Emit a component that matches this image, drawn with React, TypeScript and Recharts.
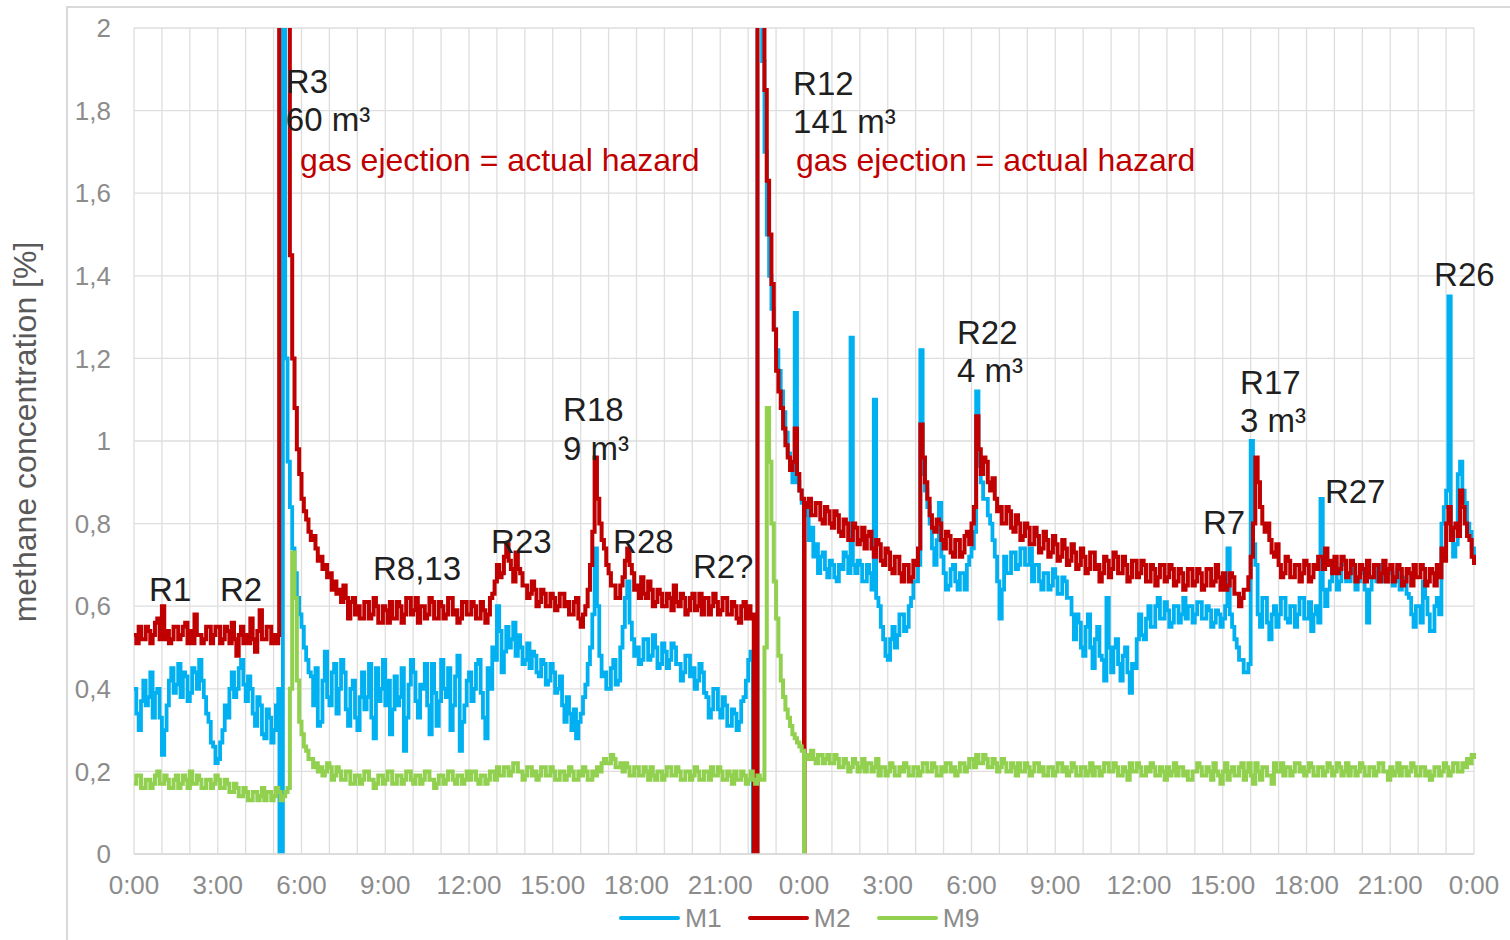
import React from 'react';
import { LineChart, Line, XAxis, YAxis, CartesianGrid, ReferenceDot } from 'recharts';

const FONT = '"Liberation Sans", Arial, Helvetica, sans-serif';

// sampling step of the series: 5 minutes, expressed in hours (12 values per hour row)
const STEP_HOURS = 1 / 12;

const hourTicks = [
  0, 1, 2, 3, 4, 5, 6, 7, 8, 9, 10, 11, 12, 13, 14, 15, 16, 17, 18, 19, 20, 21, 22, 23, 24,
  25, 26, 27, 28, 29, 30, 31, 32, 33, 34, 35, 36, 37, 38, 39, 40, 41, 42, 43, 44, 45, 46, 47, 48,
];
const yTicks = [0, 0.2, 0.4, 0.6, 0.8, 1, 1.2, 1.4, 1.6, 1.8, 2];

// M1 (blue), one row per hour, 0:00 day 1 .. 0:00 day 3
const m1Values = [
  0.40, 0.34, 0.30, 0.37, 0.42, 0.36, 0.38, 0.44, 0.33, 0.39, 0.40, 0.33,
  0.24, 0.30, 0.36, 0.42, 0.45, 0.39, 0.41, 0.46, 0.38, 0.44, 0.43, 0.37,
  0.39, 0.45, 0.44, 0.40, 0.47, 0.42, 0.38, 0.34, 0.32, 0.27, 0.26, 0.22,
  0.23, 0.27, 0.30, 0.36, 0.33, 0.40, 0.44, 0.38, 0.40, 0.45, 0.47, 0.41,
  0.37, 0.43, 0.40, 0.34, 0.31, 0.38, 0.36, 0.29, 0.28, 0.35, 0.33, 0.27,
  0.30, 0.36, 0.40, 0, 2.6, 1.2, 0.95, 0.84, 0.74, 0.68, 0.62, 0.58,
  0.55, 0.50, 0.47, 0.44, 0.43, 0.36, 0.45, 0.31, 0.32, 0.42, 0.49, 0.38,
  0.36, 0.44, 0.46, 0.34, 0.40, 0.47, 0.44, 0.35, 0.31, 0.40, 0.42, 0.33,
  0.30, 0.38, 0.44, 0.35, 0.38, 0.46, 0.33, 0.28, 0.45, 0.37, 0.40, 0.47,
  0.36, 0.42, 0.29, 0.35, 0.43, 0.36, 0.38, 0.45, 0.25, 0.33, 0.41, 0.47,
  0.44, 0.37, 0.33, 0.41, 0.40, 0.46, 0.36, 0.29, 0.46, 0.39, 0.31, 0.37,
  0.47, 0.40, 0.38, 0.45, 0.30, 0.36, 0.43, 0.48, 0.25, 0.32, 0.36, 0.42,
  0.44, 0.37, 0.40, 0.46, 0.47, 0.39, 0.33, 0.28, 0.45, 0.40, 0.50, 0.47,
  0.60, 0.54, 0.44, 0.49, 0.55, 0.50, 0.52, 0.56, 0.48, 0.53, 0.50, 0.46,
  0.47, 0.51, 0.45, 0.49, 0.48, 0.44, 0.43, 0.47, 0.46, 0.41, 0.42, 0.46,
  0.44, 0.39, 0.40, 0.43, 0.36, 0.32, 0.38, 0.34, 0.30, 0.35, 0.28, 0.32,
  0.34, 0.38, 0.41, 0.46, 0.50, 0.58, 0.74, 0.60, 0.48, 0.43, 0.44, 0.40,
  0.40, 0.45, 0.47, 0.41, 0.42, 0.50, 0.55, 0.62, 0.66, 0.56, 0.52, 0.48,
  0.50, 0.46, 0.47, 0.52, 0.52, 0.47, 0.48, 0.53, 0.50, 0.45, 0.46, 0.51,
  0.49, 0.45, 0.47, 0.51, 0.50, 0.46, 0.46, 0.42, 0.44, 0.48, 0.48, 0.43,
  0.45, 0.40, 0.42, 0.46, 0.44, 0.39, 0.38, 0.33, 0.35, 0.40, 0.40, 0.35,
  0.33, 0.38, 0.36, 0.31, 0.31, 0.35, 0.34, 0.30, 0.32, 0.37, 0.38, 0.42,
  0.47, 0.49, 0, 0, 2.8, 2.4, 1.92, 1.7, 1.5, 1.4, 1.32, 1.27,
  1.22, 1.17, 1.12, 1.07, 1.02, 0.97, 0.93, 0.90, 1.31, 0.90, 0.88, 0.85,
  0.82, 0.84, 0.76, 0.79, 0.72, 0.75, 0.68, 0.72, 0.73, 0.69, 0.67, 0.71,
  0.70, 0.67, 0.66, 0.70, 0.69, 0.73, 0.72, 0.68, 1.25, 0.70, 0.68, 0.71,
  0.70, 0.66, 0.66, 0.70, 0.68, 0.64, 1.10, 0.62, 0.60, 0.55, 0.52, 0.48,
  0.47, 0.52, 0.55, 0.50, 0.53, 0.58, 0.58, 0.54, 0.55, 0.60, 0.62, 0.66,
  0.66, 0.70, 1.22, 0.92, 0.88, 0.84, 0.80, 0.74, 0.70, 0.76, 0.85, 0.72,
  0.68, 0.64, 0.65, 0.69, 0.70, 0.66, 0.64, 0.68, 0.68, 0.64, 0.70, 0.72,
  0.74, 0.78, 1.12, 0.94, 0.90, 0.86, 0.86, 0.82, 0.80, 0.76, 0.72, 0.66,
  0.57, 0.64, 0.72, 0.68, 0.68, 0.73, 0.73, 0.69, 0.70, 0.74, 0.74, 0.70,
  0.70, 0.74, 0.66, 0.70, 0.70, 0.66, 0.64, 0.68, 0.68, 0.64, 0.65, 0.69,
  0.67, 0.63, 0.63, 0.67, 0.66, 0.62, 0.62, 0.58, 0.52, 0.58, 0.56, 0.50,
  0.48, 0.55, 0.58, 0.50, 0.45, 0.52, 0.55, 0.48, 0.47, 0.42, 0.62, 0.50,
  0.44, 0.50, 0.52, 0.46, 0.42, 0.48, 0.50, 0.44, 0.39, 0.46, 0.45, 0.52,
  0.58, 0.53, 0.52, 0.57, 0.60, 0.55, 0.55, 0.60, 0.62, 0.57, 0.57, 0.61,
  0.59, 0.55, 0.56, 0.60, 0.60, 0.56, 0.58, 0.62, 0.57, 0.60, 0.60, 0.56,
  0.58, 0.61, 0.61, 0.57, 0.57, 0.60, 0.59, 0.55, 0.56, 0.59, 0.58, 0.55,
  0.57, 0.60, 0.74, 0.58, 0.55, 0.52, 0.50, 0.47, 0.47, 0.44, 0.44, 0.46,
  1.0, 0.75, 0.70, 0.58, 0.55, 0.62, 0.62, 0.56, 0.52, 0.58, 0.60, 0.55,
  0.58, 0.62, 0.62, 0.57, 0.56, 0.60, 0.60, 0.55, 0.58, 0.62, 0.62, 0.57,
  0.57, 0.61, 0.54, 0.58, 0.60, 0.56, 0.86, 0.64, 0.60, 0.64, 0.66, 0.70,
  0.68, 0.64, 0.66, 0.70, 0.70, 0.66, 0.66, 0.69, 0.68, 0.64, 0.66, 0.69,
  0.68, 0.64, 0.56, 0.64, 0.67, 0.70, 0.66, 0.69, 0.70, 0.66, 0.66, 0.69,
  0.68, 0.65, 0.66, 0.69, 0.64, 0.67, 0.67, 0.63, 0.62, 0.58, 0.55, 0.60,
  0.60, 0.56, 0.66, 0.62, 0.58, 0.54, 0.54, 0.60, 0.62, 0.58, 0.80, 0.84,
  0.88, 1.35, 0.78, 0.72, 0.75, 0.92, 0.95, 0.88, 0.85, 0.80, 0.78, 0.74,
  0.72,
];

// M2 (red)
const m2Values = [
  0.53, 0.51, 0.55, 0.52, 0.52, 0.55, 0.54, 0.51, 0.53, 0.56, 0.57, 0.52,
  0.60, 0.52, 0.54, 0.51, 0.52, 0.55, 0.55, 0.52, 0.53, 0.55, 0.56, 0.51,
  0.54, 0.51, 0.58, 0.53, 0.53, 0.51, 0.52, 0.55, 0.55, 0.51, 0.53, 0.55,
  0.55, 0.51, 0.52, 0.55, 0.54, 0.51, 0.56, 0.52, 0.48, 0.53, 0.55, 0.51,
  0.53, 0.51, 0.57, 0.52, 0.49, 0.54, 0.59, 0.52, 0.52, 0.55, 0.55, 0.51,
  0.53, 0.51, 0.53, 2.8, 2.8, 2.6, 2.05, 1.45, 1.2, 1.08, 0.98, 0.92,
  0.86, 0.83, 0.81, 0.78, 0.76, 0.77, 0.74, 0.71, 0.72, 0.69, 0.70, 0.67,
  0.68, 0.64, 0.66, 0.63, 0.64, 0.61, 0.65, 0.62, 0.57, 0.61, 0.62, 0.58,
  0.60, 0.57, 0.57, 0.61, 0.61, 0.57, 0.58, 0.62, 0.60, 0.56, 0.56, 0.60,
  0.59, 0.56, 0.61, 0.57, 0.57, 0.61, 0.60, 0.56, 0.58, 0.62, 0.62, 0.58,
  0.59, 0.62, 0.56, 0.60, 0.60, 0.57, 0.58, 0.62, 0.61, 0.57, 0.57, 0.61,
  0.60, 0.57, 0.58, 0.62, 0.62, 0.58, 0.59, 0.56, 0.57, 0.61, 0.61, 0.58,
  0.58, 0.61, 0.60, 0.57, 0.57, 0.61, 0.59, 0.56, 0.58, 0.62, 0.63, 0.66,
  0.70, 0.67, 0.68, 0.72, 0.75, 0.71, 0.69, 0.66, 0.73, 0.69, 0.68, 0.65,
  0.65, 0.62, 0.63, 0.66, 0.64, 0.60, 0.61, 0.64, 0.63, 0.60, 0.60, 0.63,
  0.62, 0.59, 0.60, 0.63, 0.63, 0.60, 0.61, 0.58, 0.58, 0.61, 0.62, 0.57,
  0.55, 0.58, 0.60, 0.64, 0.70, 0.78, 0.96, 0.86, 0.80, 0.76, 0.74, 0.70,
  0.68, 0.65, 0.65, 0.62, 0.62, 0.65, 0.67, 0.71, 0.74, 0.70, 0.68, 0.64,
  0.65, 0.62, 0.67, 0.63, 0.62, 0.66, 0.64, 0.60, 0.61, 0.64, 0.63, 0.60,
  0.60, 0.63, 0.62, 0.59, 0.65, 0.61, 0.60, 0.63, 0.62, 0.58, 0.59, 0.62,
  0.63, 0.59, 0.60, 0.63, 0.58, 0.62, 0.62, 0.58, 0.60, 0.63, 0.61, 0.58,
  0.59, 0.62, 0.62, 0.58, 0.58, 0.61, 0.60, 0.57, 0.56, 0.60, 0.61, 0.57,
  0.60, 0.57, 0.58, 0, 2.8, 2.8, 2.1, 1.85, 1.63, 1.5, 1.38, 1.27,
  1.17, 1.12, 1.08, 1.03, 0.99, 0.96, 0.93, 0.95, 1.03, 0.92, 0.88, 0.86,
  0, 0.84, 0.86, 0.82, 0.82, 0.85, 0.85, 0.81, 0.80, 0.84, 0.83, 0.80,
  0.79, 0.83, 0.82, 0.78, 0.77, 0.81, 0.80, 0.76, 0.76, 0.80, 0.79, 0.75,
  0.76, 0.79, 0.74, 0.77, 0.78, 0.74, 0.72, 0.76, 0.75, 0.71, 0.70, 0.74,
  0.73, 0.69, 0.68, 0.72, 0.72, 0.68, 0.66, 0.70, 0.70, 0.66, 0.67, 0.71,
  0.70, 0.74, 1.04, 0.96, 0.90, 0.86, 0.82, 0.79, 0.78, 0.81, 0.80, 0.76,
  0.74, 0.78, 0.77, 0.73, 0.72, 0.76, 0.76, 0.72, 0.73, 0.77, 0.78, 0.75,
  0.80, 0.84, 1.06, 0.98, 0.92, 0.96, 0.95, 0.90, 0.88, 0.91, 0.86, 0.83,
  0.84, 0.80, 0.80, 0.84, 0.83, 0.79, 0.78, 0.82, 0.80, 0.76, 0.77, 0.80,
  0.79, 0.75, 0.75, 0.79, 0.77, 0.73, 0.74, 0.78, 0.76, 0.72, 0.73, 0.77,
  0.75, 0.71, 0.72, 0.76, 0.74, 0.70, 0.71, 0.75, 0.73, 0.69, 0.70, 0.74,
  0.72, 0.68, 0.69, 0.73, 0.73, 0.69, 0.70, 0.66, 0.68, 0.72, 0.71, 0.67,
  0.69, 0.73, 0.72, 0.68, 0.68, 0.72, 0.70, 0.66, 0.67, 0.71, 0.71, 0.67,
  0.68, 0.71, 0.70, 0.66, 0.66, 0.70, 0.69, 0.65, 0.67, 0.70, 0.70, 0.66,
  0.67, 0.70, 0.69, 0.65, 0.66, 0.69, 0.68, 0.64, 0.65, 0.69, 0.69, 0.65,
  0.66, 0.69, 0.68, 0.64, 0.65, 0.69, 0.69, 0.65, 0.66, 0.70, 0.67, 0.64,
  0.68, 0.64, 0.65, 0.68, 0.67, 0.63, 0.63, 0.60, 0.62, 0.64, 0.64, 0.67,
  0.72, 0.80, 0.96, 0.90, 0.84, 0.80, 0.78, 0.80, 0.76, 0.73, 0.72, 0.75,
  0.70, 0.67, 0.68, 0.72, 0.71, 0.67, 0.67, 0.70, 0.70, 0.66, 0.68, 0.71,
  0.70, 0.66, 0.67, 0.70, 0.69, 0.72, 0.72, 0.69, 0.74, 0.70, 0.71, 0.68,
  0.72, 0.68, 0.69, 0.72, 0.71, 0.67, 0.68, 0.71, 0.70, 0.66, 0.67, 0.70,
  0.69, 0.66, 0.71, 0.67, 0.67, 0.70, 0.70, 0.66, 0.68, 0.71, 0.66, 0.69,
  0.70, 0.66, 0.67, 0.70, 0.69, 0.65, 0.66, 0.69, 0.68, 0.65, 0.70, 0.67,
  0.67, 0.70, 0.69, 0.65, 0.66, 0.69, 0.68, 0.65, 0.70, 0.67, 0.74, 0.71,
  0.80, 0.84, 0.76, 0.79, 0.80, 0.77, 0.88, 0.84, 0.80, 0.77, 0.76, 0.72,
  0.70,
];

// M9 (green)
const m9Values = [
  0.17, 0.19, 0.19, 0.16, 0.16, 0.18, 0.18, 0.16, 0.17, 0.19, 0.20, 0.17,
  0.17, 0.19, 0.18, 0.16, 0.16, 0.18, 0.19, 0.16, 0.17, 0.19, 0.18, 0.16,
  0.20, 0.17, 0.17, 0.19, 0.18, 0.16, 0.16, 0.18, 0.18, 0.16, 0.17, 0.19,
  0.18, 0.16, 0.16, 0.18, 0.17, 0.15, 0.15, 0.17, 0.16, 0.14, 0.14, 0.16,
  0.15, 0.13, 0.13, 0.15, 0.15, 0.13, 0.14, 0.16, 0.13, 0.15, 0.15, 0.13,
  0.14, 0.16, 0.15, 0.13, 0.14, 0.15, 0.16, 0.40, 0.73, 0.62, 0.42, 0.32,
  0.29, 0.26, 0.25, 0.23, 0.23, 0.21, 0.22, 0.20, 0.21, 0.19, 0.20, 0.22,
  0.21, 0.18, 0.19, 0.21, 0.20, 0.18, 0.18, 0.20, 0.20, 0.17, 0.17, 0.19,
  0.19, 0.17, 0.18, 0.20, 0.20, 0.18, 0.18, 0.16, 0.17, 0.19, 0.19, 0.17,
  0.18, 0.20, 0.20, 0.17, 0.17, 0.19, 0.19, 0.17, 0.18, 0.20, 0.20, 0.18,
  0.17, 0.19, 0.19, 0.17, 0.18, 0.20, 0.20, 0.18, 0.18, 0.16, 0.17, 0.19,
  0.19, 0.17, 0.18, 0.20, 0.20, 0.18, 0.17, 0.19, 0.19, 0.17, 0.18, 0.20,
  0.18, 0.20, 0.20, 0.18, 0.17, 0.19, 0.19, 0.17, 0.18, 0.20, 0.20, 0.18,
  0.21, 0.19, 0.19, 0.21, 0.21, 0.19, 0.20, 0.22, 0.22, 0.20, 0.20, 0.18,
  0.19, 0.21, 0.21, 0.19, 0.20, 0.18, 0.19, 0.21, 0.21, 0.19, 0.19, 0.21,
  0.20, 0.18, 0.18, 0.20, 0.20, 0.18, 0.19, 0.21, 0.20, 0.18, 0.18, 0.20,
  0.19, 0.21, 0.20, 0.18, 0.18, 0.20, 0.19, 0.21, 0.20, 0.22, 0.23, 0.22,
  0.22, 0.24, 0.23, 0.21, 0.21, 0.22, 0.20, 0.22, 0.21, 0.19, 0.19, 0.21,
  0.21, 0.19, 0.19, 0.21, 0.20, 0.18, 0.21, 0.19, 0.18, 0.20, 0.20, 0.18,
  0.19, 0.21, 0.21, 0.19, 0.19, 0.21, 0.20, 0.18, 0.18, 0.20, 0.20, 0.18,
  0.19, 0.21, 0.20, 0.18, 0.18, 0.20, 0.20, 0.18, 0.21, 0.19, 0.19, 0.21,
  0.20, 0.18, 0.18, 0.20, 0.19, 0.17, 0.20, 0.18, 0.18, 0.20, 0.19, 0.17,
  0.18, 0.20, 0.18, 0.17, 0.19, 0.18, 0.18, 0.50, 1.08, 0.95, 0.80, 0.66,
  0.57, 0.48, 0.42, 0.38, 0.35, 0.33, 0.31, 0.29, 0.28, 0.27, 0.26, 0.25,
  0, 0.24, 0.23, 0.25, 0.23, 0.22, 0.24, 0.24, 0.22, 0.23, 0.24, 0.22,
  0.22, 0.24, 0.23, 0.21, 0.21, 0.23, 0.22, 0.20, 0.21, 0.23, 0.22, 0.20,
  0.21, 0.23, 0.20, 0.22, 0.22, 0.20, 0.21, 0.23, 0.19, 0.21, 0.21, 0.19,
  0.20, 0.22, 0.21, 0.19, 0.19, 0.21, 0.20, 0.22, 0.21, 0.19, 0.19, 0.21,
  0.21, 0.19, 0.20, 0.22, 0.22, 0.20, 0.20, 0.22, 0.21, 0.19, 0.19, 0.21,
  0.20, 0.22, 0.22, 0.20, 0.21, 0.19, 0.20, 0.22, 0.22, 0.20, 0.21, 0.23,
  0.23, 0.21, 0.24, 0.22, 0.22, 0.24, 0.23, 0.21, 0.21, 0.23, 0.22, 0.20,
  0.21, 0.23, 0.22, 0.20, 0.20, 0.22, 0.21, 0.19, 0.22, 0.20, 0.20, 0.22,
  0.21, 0.19, 0.20, 0.22, 0.22, 0.20, 0.21, 0.19, 0.19, 0.21, 0.21, 0.19,
  0.20, 0.22, 0.22, 0.20, 0.21, 0.19, 0.20, 0.22, 0.21, 0.19, 0.19, 0.21,
  0.21, 0.19, 0.20, 0.22, 0.19, 0.21, 0.21, 0.19, 0.20, 0.22, 0.22, 0.20,
  0.20, 0.22, 0.21, 0.19, 0.19, 0.21, 0.20, 0.18, 0.22, 0.20, 0.20, 0.22,
  0.21, 0.19, 0.19, 0.21, 0.20, 0.22, 0.21, 0.19, 0.19, 0.21, 0.20, 0.18,
  0.21, 0.19, 0.20, 0.22, 0.19, 0.21, 0.21, 0.19, 0.20, 0.18, 0.18, 0.20,
  0.20, 0.22, 0.21, 0.19, 0.19, 0.21, 0.20, 0.18, 0.22, 0.20, 0.19, 0.17,
  0.20, 0.22, 0.18, 0.20, 0.21, 0.19, 0.19, 0.21, 0.22, 0.18, 0.20, 0.22,
  0.19, 0.17, 0.22, 0.20, 0.18, 0.21, 0.21, 0.19, 0.19, 0.17, 0.22, 0.20,
  0.20, 0.22, 0.19, 0.21, 0.21, 0.19, 0.20, 0.22, 0.22, 0.20, 0.21, 0.19,
  0.20, 0.22, 0.21, 0.19, 0.19, 0.21, 0.21, 0.19, 0.20, 0.22, 0.21, 0.19,
  0.20, 0.22, 0.21, 0.19, 0.20, 0.22, 0.19, 0.21, 0.21, 0.19, 0.20, 0.22,
  0.21, 0.19, 0.19, 0.21, 0.21, 0.19, 0.20, 0.22, 0.22, 0.20, 0.20, 0.18,
  0.21, 0.19, 0.20, 0.22, 0.19, 0.21, 0.21, 0.19, 0.20, 0.22, 0.21, 0.19,
  0.19, 0.21, 0.21, 0.19, 0.20, 0.18, 0.19, 0.21, 0.21, 0.19, 0.20, 0.22,
  0.21, 0.19, 0.20, 0.22, 0.22, 0.20, 0.20, 0.22, 0.21, 0.23, 0.22, 0.24,
  0.23,
];

// extra samples at the sudden events (hours)
const eventSamples: { h: number; m1?: number; m2?: number; m9?: number }[] = [
  { h: 5.2, m2: 2.8 },
  { h: 5.21, m1: 0 },
  { h: 22.2, m2: 0 },
  { h: 23.98, m2: 0.86, m9: 0.25 },
  { h: 24.02, m2: 0.85, m9: 0.24 },
];

const annotations = [
  { h: 0.54, v: 0.613, lines: ['R1'], red: false },
  { h: 3.08, v: 0.613, lines: ['R2'], red: false },
  { h: 5.44, v: 1.843, lines: ['R3', '60 m³'], red: false },
  { h: 5.95, v: 1.654, lines: ['gas ejection = actual hazard'], red: true },
  { h: 8.56, v: 0.663, lines: ['R8,13'], red: false },
  { h: 12.79, v: 0.729, lines: ['R23'], red: false },
  { h: 15.37, v: 1.048, lines: ['R18', '9 m³'], red: false },
  { h: 17.16, v: 0.729, lines: ['R28'], red: false },
  { h: 20.02, v: 0.668, lines: ['R2?'], red: false },
  { h: 23.61, v: 1.838, lines: ['R12', '141 m³'], red: false },
  { h: 23.71, v: 1.654, lines: ['gas ejection = actual hazard'], red: true },
  { h: 29.48, v: 1.235, lines: ['R22', '4 m³'], red: false },
  { h: 38.29, v: 0.775, lines: ['R7'], red: false },
  { h: 39.62, v: 1.114, lines: ['R17', '3 m³'], red: false },
  { h: 42.66, v: 0.85, lines: ['R27'], red: false },
  { h: 46.57, v: 1.375, lines: ['R26'], red: false },
];

const seriesInfo = [
  { key: 'm1', name: 'M1', color: '#00b0f0', width: 3.8 },
  { key: 'm2', name: 'M2', color: '#c00000', width: 4 },
  { key: 'm9', name: 'M9', color: '#92d050', width: 4 },
];

type Row = { h: number; m1: number | null; m2: number | null; m9: number | null };

const pick = (arr: number[], i: number) => (i < arr.length ? arr[i] : null);

const gridRows: Row[] = m1Values.map((v, i) => ({
  h: i * STEP_HOURS,
  m1: v,
  m2: pick(m2Values, i),
  m9: pick(m9Values, i),
}));
const eventRows: Row[] = eventSamples.map((e) => ({
  h: e.h,
  m1: e.m1 === undefined ? null : e.m1,
  m2: e.m2 === undefined ? null : e.m2,
  m9: e.m9 === undefined ? null : e.m9,
}));
const rows: Row[] = [...gridRows, ...eventRows].sort((a, b) => a.h - b.h);

const formatHour = (h: number) => (h % 3 === 0 ? `${h % 24}:00` : '');
const formatY = (v: number) => String(v).replace('.', ',');

const tickStyle = { fill: '#8c8c8c', fontSize: 26, fontFamily: FONT };

const makeLabel = (lines: string[], red: boolean) => (props: any) => {
  const vb = props.viewBox || {};
  const x = (vb.x !== undefined ? vb.x : props.x) as number;
  const y = (vb.y !== undefined ? vb.y : props.y) as number;
  return (
    <text
      x={x}
      y={y}
      fill={red ? '#c00000' : '#1f1f1f'}
      fontSize={red ? 32 : 33}
      fontFamily={FONT}
    >
      {lines.map((l, i) => (
        <tspan key={i} x={x} dy={i === 0 ? 0 : 38.5}>
          {l}
        </tspan>
      ))}
    </text>
  );
};

export default function App() {
  return (
    <div
      style={{
        position: 'absolute',
        left: 0,
        top: 0,
        width: 1510,
        height: 940,
        overflow: 'hidden',
        background: '#ffffff',
        fontFamily: FONT,
      }}
    >
      <div
        style={{
          position: 'absolute',
          left: 66,
          top: 6,
          width: 1500,
          height: 1000,
          borderLeft: '2px solid #d9d9d9',
          borderTop: '2px solid #d9d9d9',
        }}
      />
      <div style={{ position: 'absolute', left: 0, top: 0 }}>
        <LineChart
          width={1510}
          height={940}
          data={rows}
          margin={{ top: 28, right: 36, bottom: 56, left: 0 }}
        >
          <CartesianGrid stroke="#dedede" strokeWidth={1.3} />
          <XAxis
            dataKey="h"
            type="number"
            domain={[0, 48]}
            ticks={hourTicks}
            interval={0}
            tickFormatter={formatHour}
            tickLine={false}
            axisLine={{ stroke: '#d9d9d9', strokeWidth: 1.3 }}
            tick={tickStyle}
            tickMargin={16}
            height={30}
          />
          <YAxis
            type="number"
            domain={[0, 2]}
            ticks={yTicks}
            allowDataOverflow
            tickFormatter={formatY}
            tickLine={false}
            axisLine={false}
            width={134}
            tickMargin={17}
            tick={tickStyle}
          />
          {seriesInfo.map((s) => (
            <Line
              key={s.key}
              dataKey={s.key}
              name={s.name}
              type="stepAfter"
              stroke={s.color}
              strokeWidth={s.width}
              strokeLinejoin="miter"
              dot={false}
              activeDot={false}
              connectNulls
              isAnimationActive={false}
            />
          ))}
          {annotations.map((a, i) => (
            <ReferenceDot
              key={i}
              x={a.h}
              y={a.v}
              r={0}
              fill="none"
              stroke="none"
              label={makeLabel(a.lines, a.red)}
            />
          ))}
        </LineChart>
      </div>
      <div
        style={{
          position: 'absolute',
          left: 25,
          top: 432,
          transform: 'translate(-50%, -50%) rotate(-90deg)',
          whiteSpace: 'nowrap',
          fontSize: 32,
          color: '#595959',
          fontFamily: FONT,
          lineHeight: 1.15,
        }}
      >
        methane concentration [%]
      </div>
      <div
        style={{
          position: 'absolute',
          left: 619,
          top: 903,
          height: 30,
          display: 'flex',
          alignItems: 'center',
        }}
      >
        {seriesInfo.map((s) => (
          <div key={s.key} style={{ display: 'flex', alignItems: 'center', marginRight: 26 }}>
            <div
              style={{
                width: 61,
                height: 4,
                borderRadius: 2,
                background: s.color,
                marginRight: 5,
              }}
            />
            <span style={{ fontSize: 26.5, color: '#8c8c8c', lineHeight: '30px' }}>{s.name}</span>
          </div>
        ))}
      </div>
    </div>
  );
}
